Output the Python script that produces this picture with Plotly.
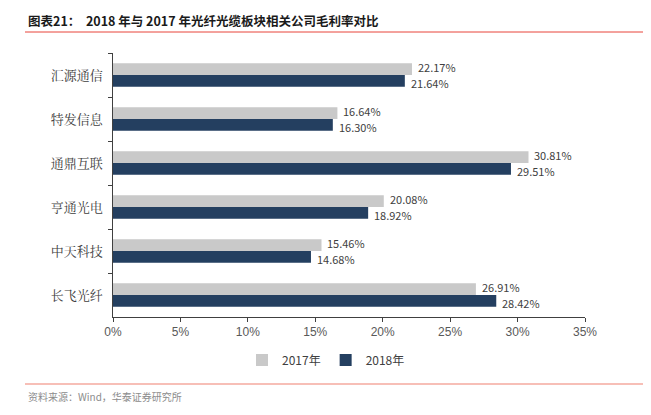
import plotly.graph_objects as go

categories = ["汇源通信", "特发信息", "通鼎互联", "亨通光电", "中天科技", "长飞光纤"]
v2017 = [22.17, 16.64, 30.81, 20.08, 15.46, 26.91]
v2018 = [21.64, 16.30, 29.51, 18.92, 14.68, 28.42]
xticks = [0, 5, 10, 15, 20, 25, 30, 35]
xticklabels = [f"{t}%" for t in xticks]

# page body has an 8px margin; work in window pixels and convert
OFF = 8
W, H = 651 - OFF, 415 - OFF
L, R, T, B = 113 - OFF, 585 - OFF, 53 - OFF, 317 - OFF
BARGAP = 0.47

def px_x(p):
    return (p - OFF - L) / (R - L)

def px_y(p):
    return (B - (p - OFF)) / (B - T)

label_font = dict(size=11, color="#404040", family="Noto Sans CJK SC")

fig = go.Figure()
fig.add_trace(go.Bar(
    y=categories, x=v2017, orientation="h", name="2017年",
    marker=dict(color="#C9C9C9", line=dict(width=0)),
))
fig.add_trace(go.Bar(
    y=categories, x=v2018, orientation="h", name="2018年",
    marker=dict(color="#243F60", line=dict(width=0)),
))

# value labels beside each bar (grouped bar offsets within each category)
half = (1 - BARGAP) / 4
for i, cat in enumerate(categories):
    for vals, off, ysh in ((v2017, -half, 2), (v2018, half, -2)):
        fig.add_annotation(x=vals[i], y=i + off, xref="x", yref="y",
                           text=f"{vals[i]:.2f}%", showarrow=False,
                           xanchor="left", yanchor="middle", xshift=4, yshift=ysh,
                           font=label_font)

fig.update_layout(
    width=W, height=H,
    margin=dict(l=L, r=W - R, t=T, b=H - B, autoexpand=False),
    paper_bgcolor="white", plot_bgcolor="white",
    barmode="group", bargap=BARGAP, bargroupgap=0,
    font=dict(family="Noto Sans CJK SC", color="#404040"),
    showlegend=True,
    legend=dict(orientation="h", x=px_x(326), xanchor="center",
                y=px_y(360), yanchor="middle",
                font=dict(size=12, color="#404040", family="Liberation Sans Narrow, Noto Sans CJK SC"),
                itemwidth=30, traceorder="normal", tracegroupgap=0),
    xaxis=dict(range=[0, 35], tickvals=xticks, ticktext=xticklabels,
               automargin=False,
               showgrid=False, zeroline=False,
               showline=True, linecolor="#404040", linewidth=1,
               ticks="outside", ticklen=4, tickcolor="#404040",
               tickfont=dict(size=12, color="#595959", family="Liberation Sans Narrow, Liberation Sans")),
    yaxis=dict(autorange="reversed", type="category", automargin=False,
               showgrid=False, showline=True, linecolor="#404040", linewidth=1,
               ticks="outside", ticklen=4, tickcolor="#404040", tickson="boundaries",
               tickfont=dict(size=13, color="#404040", family="Noto Serif CJK SC, Noto Sans CJK SC"),
               ticksuffix="  "),
)

# Title
fig.add_annotation(text="<b>图表21：  2018 年与 2017 年光纤光缆板块相关公司毛利率对比</b>",
                   xref="paper", yref="paper", x=px_x(26), y=px_y(20),
                   xanchor="left", yanchor="middle", showarrow=False,
                   font=dict(size=12.5, color="#1a1a1a", family="Noto Sans CJK SC"))
fig.add_shape(type="line", xref="paper", yref="paper",
              x0=px_x(25), x1=px_x(651), y0=px_y(32), y1=px_y(32),
              line=dict(color="#E8443A", width=1))
# Source
fig.add_shape(type="line", xref="paper", yref="paper",
              x0=px_x(25), x1=px_x(651), y0=px_y(384), y1=px_y(384),
              line=dict(color="#F08070", width=1.2))
fig.add_annotation(text="资料来源：Wind，华泰证券研究所",
                   xref="paper", yref="paper", x=px_x(26), y=px_y(396),
                   xanchor="left", yanchor="middle", showarrow=False,
                   font=dict(size=10, color="#8c8c8c", family="Noto Sans CJK SC"))

fig.write_html("out.html")
